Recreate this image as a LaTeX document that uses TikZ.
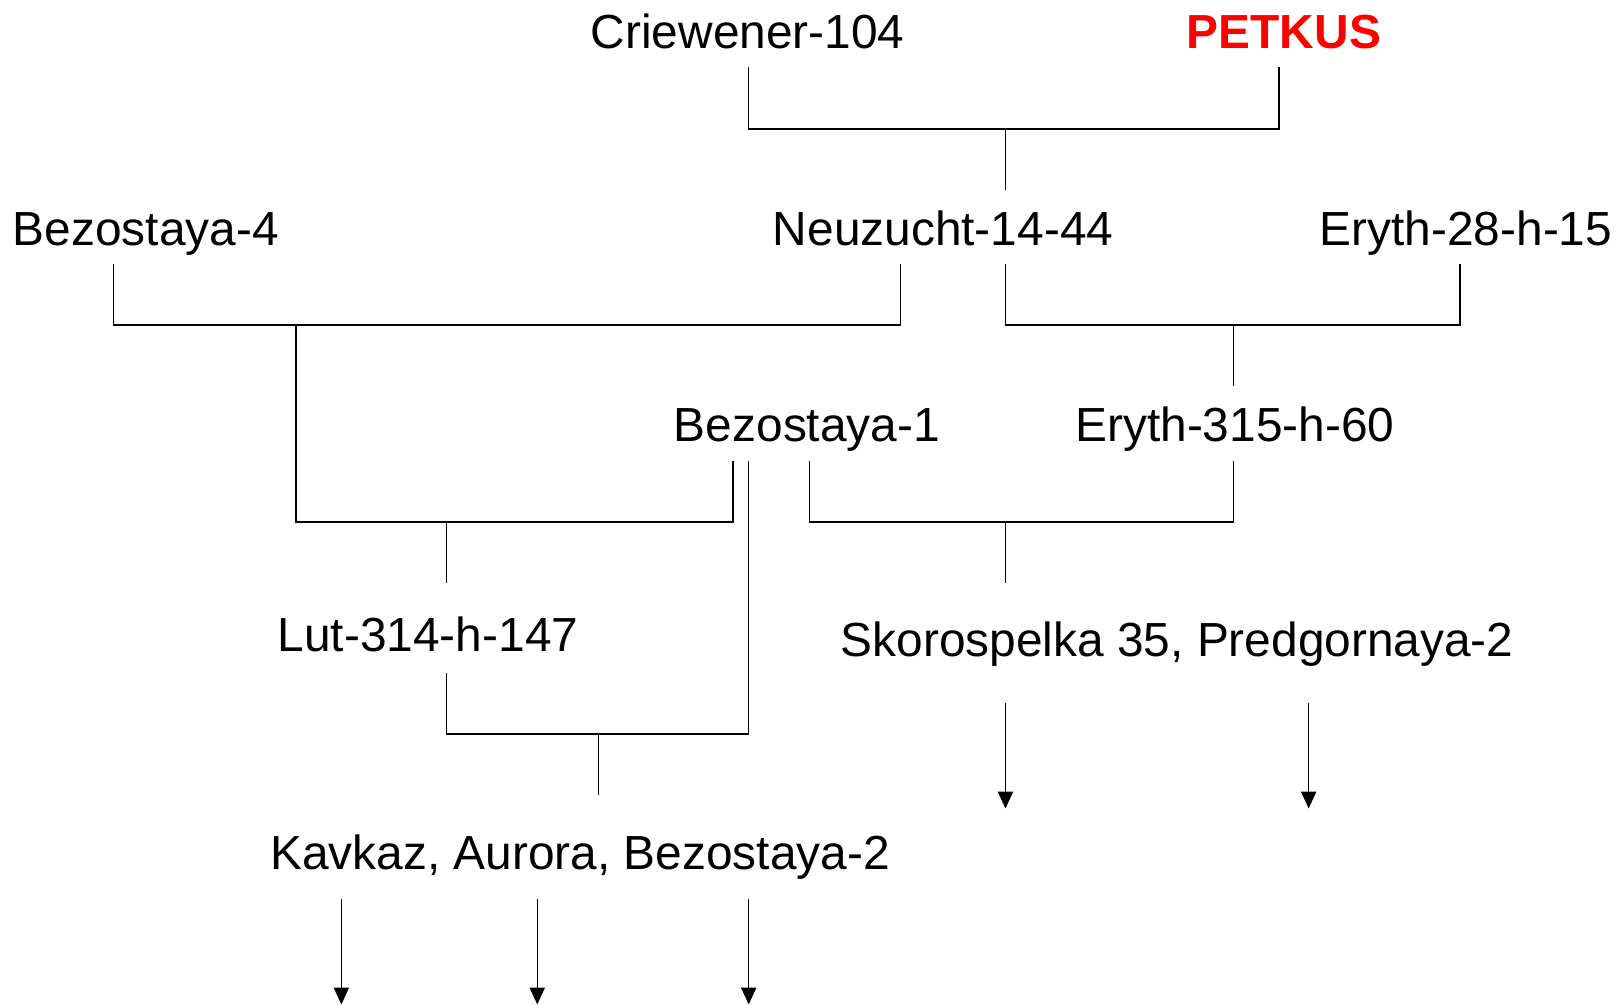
\documentclass[tikz,border=0pt]{standalone}
\usepackage{fontspec}
\setmainfont{Liberation Sans}
\usetikzlibrary{arrows.meta}
\begin{document}
\begin{tikzpicture}[x=0.5pt,y=-0.5pt,
  lbl/.style={anchor=base,inner sep=0pt,font=\fontsize{23.2pt}{27pt}\selectfont},
  brk/.style={line width=0.75pt,line cap=rect},
  hz/.style={line width=1.05pt,line cap=butt},
  stem/.style={line width=0.5pt},
  arr/.style={line width=0.55pt,-{Triangle[length=8.2pt,width=7.4pt]}}]
\useasboundingbox (0,0) rectangle (1568,974);
% nodes
\node[lbl] (crie) at (725,47.5) {Criewener-104};
\node[lbl,text={rgb,255:red,255;green,0;blue,0},font=\fontsize{23.2pt}{27pt}\selectfont\bfseries] (pet) at (1245,47.5) {PETKUS};
\node[lbl] (bez4) at (141.5,238.5) {Bezostaya-4};
\node[lbl] (neu) at (914.5,238.5) {Neuzucht-14-44};
\node[lbl] (ery28) at (1421.5,238.5) {Eryth-28-h-15};
\node[lbl] (bez1) at (782.5,428.3) {Bezostaya-1};
\node[lbl] (ery315) at (1197.5,428.3) {Eryth-315-h-60};
\node[lbl] (lut) at (415,632) {Lut-314-h-147};
\node[lbl] (sko) at (1141.5,636.8) {Skorospelka 35, Predgornaya-2};
\node[lbl] (kav) at (562.5,843.6) {Kavkaz, Aurora, Bezostaya-2};
% coordinates
\coordinate (a1) at (726,66);  \coordinate (a2) at (1240,66);
\coordinate (ah1) at (726,125);  \coordinate (ah2) at (1240,125);
\coordinate (as1) at (975,125);  \coordinate (as2) at (975,184);
\coordinate (b1) at (110,257); \coordinate (b2) at (873,257);
\coordinate (bh1) at (110,315);  \coordinate (bh2) at (873,315);
\coordinate (c1) at (975,257); \coordinate (c2) at (1416,257);
\coordinate (ch1) at (975,315);  \coordinate (ch2) at (1416,315);
\coordinate (cs1) at (1196,315); \coordinate (cs2) at (1196,374);
\coordinate (bs1) at (287,315);  \coordinate (dh1) at (287,506);
\coordinate (d2) at (711,448);   \coordinate (dh2) at (711,506);
\coordinate (ds1) at (433,506);  \coordinate (ds2) at (433,565);
\coordinate (g1) at (726,448);   \coordinate (g2) at (726,711.5);
\coordinate (e1) at (785,448);   \coordinate (e2) at (1196,448);
\coordinate (eh1) at (785,506);  \coordinate (eh2) at (1196,506);
\coordinate (es1) at (975,506);  \coordinate (es2) at (975,565);
\coordinate (f1) at (433,653); \coordinate (fh1) at (433,711.5);
\coordinate (fs1) at (580,711.5); \coordinate (fs2) at (580,770.5);
\coordinate (p1) at (975,681.5); \coordinate (p1e) at (975,784);
\coordinate (p2) at (1269,681.5); \coordinate (p2e) at (1269,784);
\coordinate (k1) at (331,872);  \coordinate (k1e) at (331,974);
\coordinate (k2) at (521,872);  \coordinate (k2e) at (521,974);
\coordinate (k3) at (726,872);  \coordinate (k3e) at (726,974);
% bracket A
\draw[brk] (a1) -- (ah1); \draw[brk] (a2) -- (ah2);
\draw[hz] (ah1) -- (ah2);
\draw[stem] (as1) -- (as2);
% bracket B
\draw[brk] (b1) -- (bh1); \draw[brk] (b2) -- (bh2);
\draw[hz] (bh1) -- (bh2);
% bracket C
\draw[brk] (c1) -- (ch1); \draw[brk] (c2) -- (ch2);
\draw[hz] (ch1) -- (ch2);
\draw[stem] (cs1) -- (cs2);
% bracket D
\draw[brk] (bs1) -- (dh1); \draw[brk] (d2) -- (dh2);
\draw[hz] (dh1) -- (dh2);
\draw[stem] (ds1) -- (ds2);
% long line from Bezostaya-1
\draw[brk] (g1) -- (g2);
% bracket E
\draw[brk] (e1) -- (eh1); \draw[brk] (e2) -- (eh2);
\draw[hz] (eh1) -- (eh2);
\draw[stem] (es1) -- (es2);
% bracket F
\draw[brk] (f1) -- (fh1);
\draw[hz] (fh1) -- (g2);
\draw[stem] (fs1) -- (fs2);
% arrows
\draw[arr] (p1) -- (p1e);
\draw[arr] (p2) -- (p2e);
\draw[arr] (k1) -- (k1e);
\draw[arr] (k2) -- (k2e);
\draw[arr] (k3) -- (k3e);
\end{tikzpicture}
\end{document}
